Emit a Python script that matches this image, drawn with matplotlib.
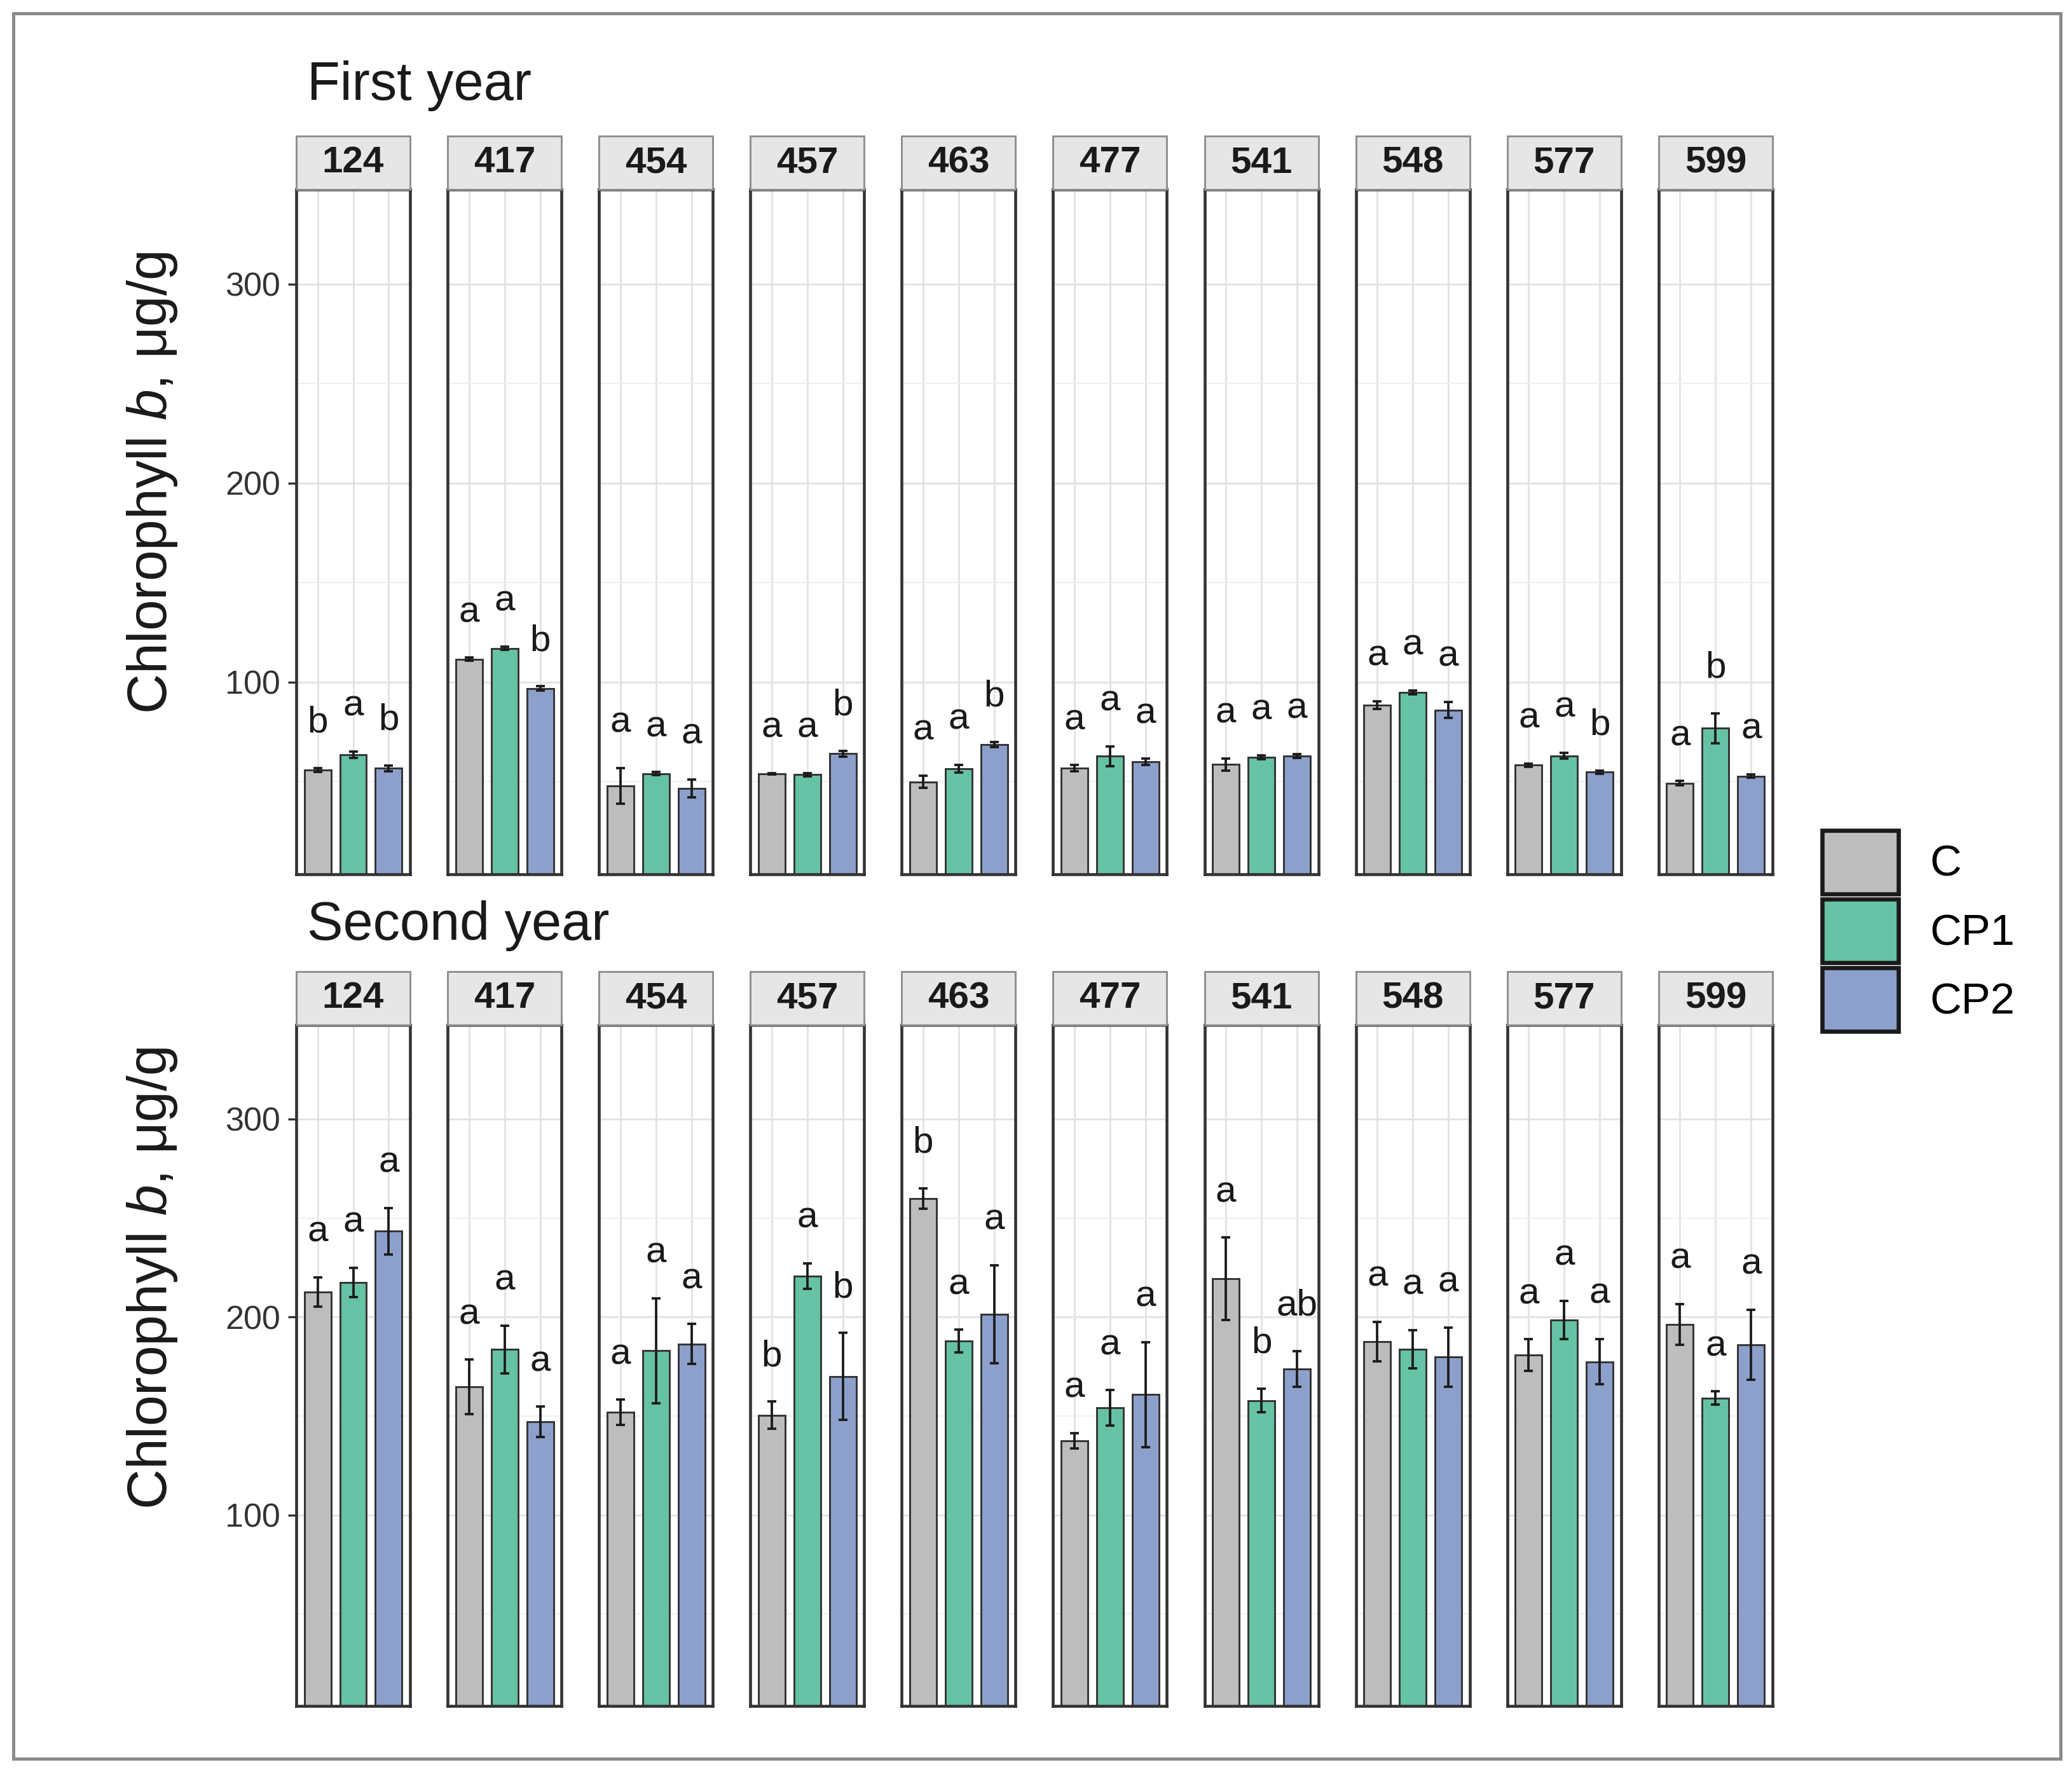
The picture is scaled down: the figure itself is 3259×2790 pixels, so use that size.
import numpy as np
import matplotlib

matplotlib.use("Agg")
import matplotlib.pyplot as plt
from matplotlib.patches import Patch, Rectangle

# --- colours ---
GREY_BAR = "#BDBDBD"
GREEN = "#66C2A5"
BLUE = "#8DA0CB"
EDGE = "#333333"
INK = "#1A1A1A"
TICK = "#333333"

plt.rcParams.update(
    {
        "font.family": ["Liberation Sans", "DejaVu Sans"],
        "mathtext.fontset": "custom",
        "mathtext.rm": "Liberation Sans",
        "mathtext.it": "Liberation Sans:italic",
        "mathtext.bf": "Liberation Sans:bold",
    }
)

# --- data ---
lines = ["124", "417", "454", "457", "463", "477", "541", "548", "577", "599"]
treatments = ["C", "CP1", "CP2"]

year1_mean = [
    [56.0, 63.6, 56.7],
    [111.5, 117.0, 96.9],
    [48.0, 54.0, 46.5],
    [54.1, 53.6, 64.1],
    [49.9, 56.5, 68.7],
    [56.8, 62.8, 60.0],
    [58.6, 62.3, 63.0],
    [88.5, 94.9, 86.0],
    [58.4, 63.0, 54.9],
    [49.3, 76.9, 52.8],
]
year1_se = [
    [1.0, 1.5, 1.5],
    [0.8, 0.8, 1.0],
    [9.0, 0.8, 4.5],
    [0.3, 0.8, 1.5],
    [3.0, 2.0, 1.2],
    [1.5, 5.0, 1.5],
    [3.0, 1.0, 1.0],
    [2.0, 1.0, 4.0],
    [0.8, 1.5, 0.8],
    [1.0, 7.5, 0.8],
]
year1_letters = [
    ["b", "a", "b"],
    ["a", "a", "b"],
    ["a", "a", "a"],
    ["a", "a", "b"],
    ["a", "a", "b"],
    ["a", "a", "a"],
    ["a", "a", "a"],
    ["a", "a", "a"],
    ["a", "a", "b"],
    ["a", "b", "a"],
]

year2_mean = [
    [212.6, 217.4, 243.4],
    [164.7, 183.6, 147.0],
    [151.8, 183.0, 186.4],
    [150.4, 220.7, 170.0],
    [259.9, 187.8, 201.4],
    [137.4, 154.0, 160.8],
    [219.3, 157.8, 173.8],
    [187.6, 183.8, 179.7],
    [180.8, 198.4, 177.4],
    [196.2, 159.0, 186.0],
]
year2_se = [
    [7.5, 7.4, 11.7],
    [13.7, 12.0, 7.7],
    [6.4, 26.5, 10.0],
    [6.8, 6.4, 22.0],
    [5.2, 5.8, 24.8],
    [3.9, 9.0, 26.5],
    [20.8, 6.0, 9.0],
    [10.0, 9.6, 15.0],
    [8.0, 9.7, 11.5],
    [10.4, 3.4, 17.6],
]
year2_letters = [
    ["a", "a", "a"],
    ["a", "a", "a"],
    ["a", "a", "a"],
    ["b", "a", "b"],
    ["b", "a", "a"],
    ["a", "a", "a"],
    ["a", "b", "ab"],
    ["a", "a", "a"],
    ["a", "a", "a"],
    ["a", "a", "a"],
]

colors = [GREY_BAR, GREEN, BLUE]

# --- figure in pixel units ---
W, H = 3259, 2790
DPI = 300
fig = plt.figure(figsize=(W / DPI, H / DPI), dpi=DPI)


def px_box(x0, y0, x1, y1):
    return [x0 / W, 1 - y1 / H, (x1 - x0) / W, (y1 - y0) / H]


PANEL_X0 = 466
PANEL_W = 179
PANEL_STEP = 238.1
STRIP_H = 84
LETTER_GAP = 18

rows = [
    (year1_mean, year1_se, year1_letters, "First year", 135, 298, 1375, 759),
    (year2_mean, year2_se, year2_letters, "Second year", 1456, 1612, 2683, 2010),
]

x = np.arange(len(treatments))
ylab = "Chlorophyll $\\mathit{b}$, μg/g"

for mean, se, letters, title, title_y, top, bot, ylab_y in rows:
    for i, line in enumerate(lines):
        x0 = PANEL_X0 + i * PANEL_STEP
        ax = fig.add_axes(px_box(x0, top, x0 + PANEL_W, bot))
        ax.set_axisbelow(True)
        ax.bar(x, mean[i], width=0.75, color=colors, edgecolor=EDGE, linewidth=0.7, zorder=2)
        ax.errorbar(
            x, mean[i], yerr=se[i], fmt="none", ecolor=INK,
            elinewidth=0.9, capsize=1.6, capthick=0.9, zorder=3,
        )
        for xi, m, s, lab in zip(x, mean[i], se[i], letters[i]):
            ax.text(xi, m + s + LETTER_GAP, lab, ha="center", va="baseline",
                    fontsize=14, color=INK, zorder=4)

        ax.set_xlim(-0.6, 2.6)
        ax.set_ylim(3.5, 347.5)
        ax.set_xticks(x)
        ax.tick_params(axis="x", length=0, labelbottom=False)
        ax.set_yticks([100, 200, 300])
        ax.set_yticks([50, 150, 250], minor=True)
        ax.grid(which="major", color="#E3E3E3", linewidth=0.7)
        ax.grid(which="minor", axis="y", color="#EFEFEF", linewidth=0.45)
        ax.tick_params(axis="y", which="minor", length=0)
        if i == 0:
            ax.tick_params(axis="y", length=3.2, width=0.8, color=TICK, pad=2.8,
                           labelsize=12.5, labelcolor=TICK)
        else:
            ax.tick_params(axis="y", length=0, labelleft=False)
        for s in ax.spines.values():
            s.set_color(EDGE)
            s.set_linewidth(1.1)

        # facet strip
        h = bot - top
        ax.add_patch(
            Rectangle((0, 1.0), 1, STRIP_H / h, transform=ax.transAxes,
                      facecolor="#E6E6E6", edgecolor="#8F8F8F", linewidth=0.7,
                      clip_on=False, zorder=5)
        )
        ax.text(0.5, 1.0 + STRIP_H / 2 / h, line, transform=ax.transAxes,
                ha="center", va="center", fontsize=14, fontweight="bold",
                color=INK, zorder=6)

    fig.text(483 / W, 1 - title_y / H, title, fontsize=20.3, ha="left", va="center", color=INK)
    fig.text(239 / W, 1 - ylab_y / H, ylab, fontsize=21, rotation=90,
             ha="center", va="center", color=INK)

handles = [Patch(facecolor=c, edgecolor=INK, linewidth=1.6, label=t)
           for c, t in zip(colors, treatments)]
fig.legend(
    handles=handles, loc="center left", bbox_to_anchor=(2866 / W, 1 - 1464 / H),
    frameon=False, fontsize=16.5, handlelength=1.75, handleheight=1.86,
    labelspacing=0.12, handletextpad=0.72, borderpad=0, borderaxespad=0,
)

# outer frame
fig.patches.append(
    Rectangle((21 / W, 1 - 2766 / H), (3241 - 21) / W, (2766 - 21) / H,
              transform=fig.transFigure, fill=False, edgecolor="#8A8A8A", linewidth=1.2)
)

fig.savefig("out.png", dpi=DPI)
plt.close(fig)
